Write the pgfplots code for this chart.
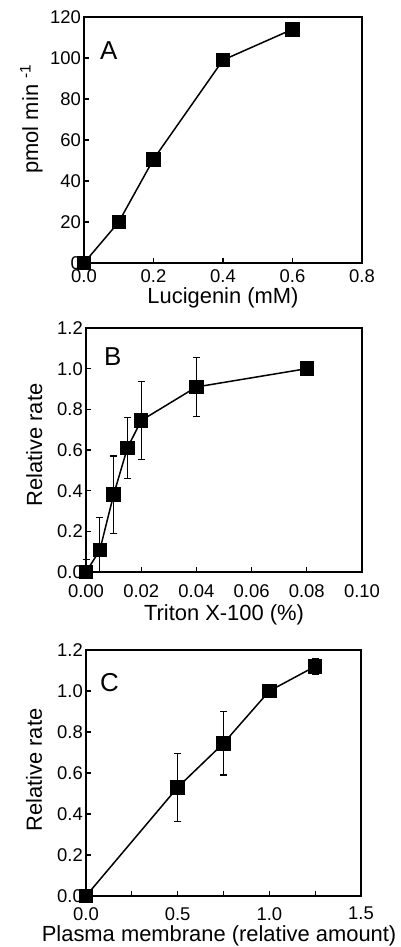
\documentclass[border=0pt]{standalone}
\usepackage{fontspec}
\setmainfont{Liberation Sans}
\usepackage{pgfplots}
\pgfplotsset{compat=1.18}
\pgfplotsset{
  panel/.style={
    scale only axis,
    clip=false,
    axis line style={line width=1.3bp},
    tick align=inside,
    xtick pos=left, ytick pos=left,
    major tick length=5bp, minor tick length=5bp,
    every tick/.style={black, line width=1.2bp},
    /pgf/number format/assume math mode=true,
    tick label style={font=\fontsize{18.5}{18.5}\selectfont},
    yticklabel style={inner xsep=0pt, xshift=-3bp},
    label style={font=\fontsize{22}{22}\selectfont, inner sep=0.5bp},
    xlabel style={anchor=base},
    ylabel style={anchor=base},
  },
  dat/.style={black, line width=1.5bp, mark=square*, mark size=6.5bp,
    mark options={solid, fill=black}},
  eb/.style={error bars/.cd, y dir=both, y explicit,
    error bar style={line width=1.2bp, black},
    error mark options={rotate=90, mark size=3.5bp, line width=1.2bp, black}},
}
\begin{document}
\begin{tikzpicture}
\useasboundingbox (0bp,0bp) rectangle (401bp,947bp);
% Panel A
\begin{axis}[panel, at={(84bp,684bp)}, anchor=south west, width=278bp, height=246bp,
  xmin=0, xmax=0.8, ymin=0, ymax=120,
  xtick={0,0.2,0.4,0.6,0.8}, ytick={0,20,40,60,80,100,120},
  xticklabel style={inner ysep=0pt, yshift=-6bp, /pgf/number format/.cd, fixed, fixed zerofill, precision=1},
  xlabel={Lucigenin (mM)},
  xlabel style={at={(axis description cs:0.5,-0.164)}},
  ylabel={pmol min \textsuperscript{-1}},
  ylabel style={at={(axis description cs:-0.165,0.585)}},
]
\addplot[dat] coordinates {(0,0) (0.1,20) (0.2,50.6) (0.4,99) (0.6,114)};
\node[anchor=base west, inner sep=0pt, font=\fontsize{26}{26}\selectfont, xshift=16bp, yshift=-43bp] at (rel axis cs:0,1) {A};
\end{axis}
% Panel B
\begin{axis}[panel, at={(86bp,375bp)}, anchor=south west, width=276bp, height=244bp,
  xmin=0, xmax=0.1, ymin=0, ymax=1.2,
  xtick={0,0.02,0.04,0.06,0.08,0.1}, ytick={0,0.2,0.4,0.6,0.8,1.0,1.2},
  xticklabel style={inner ysep=0pt, yshift=-12bp, /pgf/number format/.cd, fixed, fixed zerofill, precision=2},
  yticklabel style={/pgf/number format/.cd, fixed, fixed zerofill, precision=1},
  scaled x ticks=false,
  xlabel={Triton X-100 (\%)},
  xlabel style={at={(axis description cs:0.5,-0.197)}},
  ylabel={Relative rate},
  ylabel style={at={(axis description cs:-0.159,0.52)}},
]
\addplot[dat, eb] coordinates {
  (0,0) += (0,0.06) -= (0,0)
  (0.005,0.107) += (0,0.16) -= (0,0.107)
  (0.01,0.38) +- (0,0.19)
  (0.015,0.61) +- (0,0.15)
  (0.02,0.745) +- (0,0.19)
  (0.04,0.91) +- (0,0.145)
  (0.08,1.0) +- (0,0)
};
\node[anchor=base west, inner sep=0pt, font=\fontsize{26}{26}\selectfont, xshift=18bp, yshift=-38bp] at (rel axis cs:0,1) {B};
\end{axis}
% Panel C
\begin{axis}[panel, at={(86bp,51bp)}, anchor=south west, width=275bp, height=246bp,
  xmin=0, xmax=1.5, ymin=0, ymax=1.2,
  xtick={0,0.5,1.0,1.5}, minor xtick={0.25,0.75,1.25},
  ytick={0,0.2,0.4,0.6,0.8,1.0,1.2},
  xticklabel style={inner ysep=0pt, yshift=-11bp, /pgf/number format/.cd, fixed, fixed zerofill, precision=1},
  yticklabel style={/pgf/number format/.cd, fixed, fixed zerofill, precision=1},
  xlabel={Plasma membrane (relative amount)},
  xlabel style={at={(axis description cs:0.484,-0.183)}},
  ylabel={Relative rate},
  ylabel style={at={(axis description cs:-0.16,0.512)}},
]
\addplot[dat, eb] coordinates {
  (0,0) +- (0,0)
  (0.5,0.53) +- (0,0.165)
  (0.75,0.745) +- (0,0.155)
  (1.0,1.0) +- (0,0)
  (1.25,1.12) +- (0,0.04)
};
\node[anchor=base west, inner sep=0pt, font=\fontsize{26}{26}\selectfont, xshift=14bp, yshift=-42bp] at (rel axis cs:0,1) {C};
\end{axis}
\end{tikzpicture}
\end{document}
